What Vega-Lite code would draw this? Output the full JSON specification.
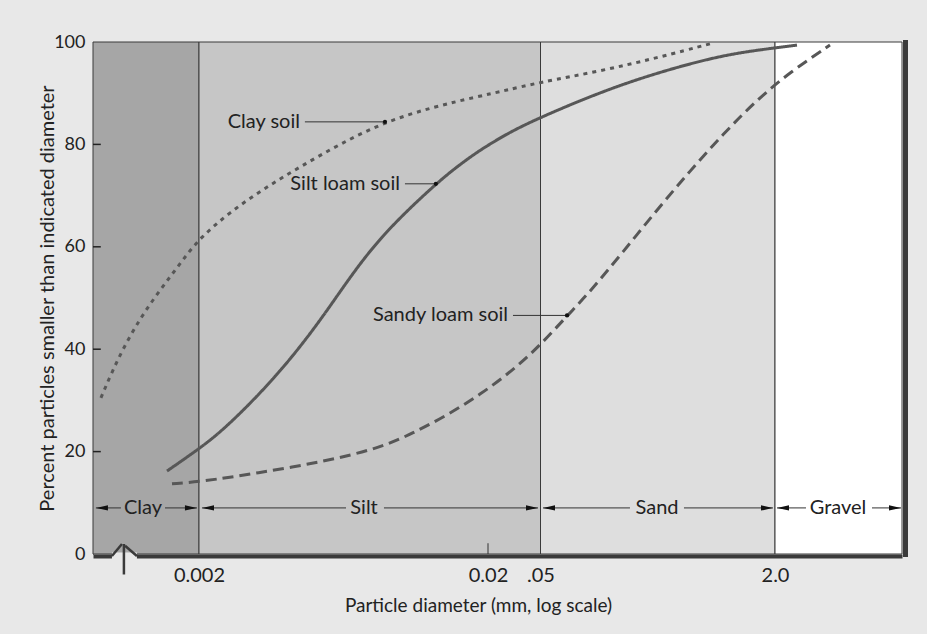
{
  "$schema": "https://vega.github.io/schema/vega-lite/v6.json",
  "width": 809,
  "height": 512,
  "autosize": "none",
  "padding": {"left": 93, "top": 42, "right": 25, "bottom": 80},
  "background": "#e8e8e8",
  "config": {
    "font": "Lato",
    "view": {"stroke": null},
    "axis": {"labelFont": "Lato", "titleFont": "Lato", "grid": false, "labelColor": "#222", "titleColor": "#222", "titleFontWeight": "normal"}
  },
  "datasets": {
    "regions": [
      {"zone": "Clay", "d1": 0.00086, "d2": 0.002},
      {"zone": "Silt", "d1": 0.002, "d2": 0.05},
      {"zone": "Sand", "d1": 0.05, "d2": 2},
      {"zone": "Gravel", "d1": 2, "d2": 14.74}
    ],
    "curves": [
      {"soil": "Clay soil", "d": 0.000916, "p": 30.5},
      {"soil": "Clay soil", "d": 0.001, "p": 35.55},
      {"soil": "Clay soil", "d": 0.001109, "p": 40.8},
      {"soil": "Clay soil", "d": 0.00125, "p": 45.9},
      {"soil": "Clay soil", "d": 0.001409, "p": 50.2},
      {"soil": "Clay soil", "d": 0.001587, "p": 54.1},
      {"soil": "Clay soil", "d": 0.001789, "p": 58.0},
      {"soil": "Clay soil", "d": 0.002016, "p": 61.7},
      {"soil": "Clay soil", "d": 0.00256, "p": 66.8},
      {"soil": "Clay soil", "d": 0.003384, "p": 71.5},
      {"soil": "Clay soil", "d": 0.004472, "p": 75.6},
      {"soil": "Clay soil", "d": 0.00615, "p": 80.1},
      {"soil": "Clay soil", "d": 0.0088, "p": 84.4},
      {"soil": "Clay soil", "d": 0.0129, "p": 87.3},
      {"soil": "Clay soil", "d": 0.0183, "p": 89.3},
      {"soil": "Clay soil", "d": 0.02786, "p": 90.6},
      {"soil": "Clay soil", "d": 0.047, "p": 92.0},
      {"soil": "Clay soil", "d": 0.1275, "p": 94.3},
      {"soil": "Clay soil", "d": 0.3124, "p": 96.9},
      {"soil": "Clay soil", "d": 0.754, "p": 99.8},
      {"soil": "Silt loam soil", "d": 0.00155, "p": 16.2},
      {"soil": "Silt loam soil", "d": 0.00202, "p": 20.7},
      {"soil": "Silt loam soil", "d": 0.00242, "p": 24.2},
      {"soil": "Silt loam soil", "d": 0.003175, "p": 30.7},
      {"soil": "Silt loam soil", "d": 0.00413, "p": 37.9},
      {"soil": "Silt loam soil", "d": 0.00537, "p": 46.3},
      {"soil": "Silt loam soil", "d": 0.00704, "p": 56.1},
      {"soil": "Silt loam soil", "d": 0.00916, "p": 63.9},
      {"soil": "Silt loam soil", "d": 0.0132, "p": 72.3},
      {"soil": "Silt loam soil", "d": 0.01575, "p": 75.8},
      {"soil": "Silt loam soil", "d": 0.01876, "p": 78.9},
      {"soil": "Silt loam soil", "d": 0.02836, "p": 82.2},
      {"soil": "Silt loam soil", "d": 0.047, "p": 85.0},
      {"soil": "Silt loam soil", "d": 0.1275, "p": 90.2},
      {"soil": "Silt loam soil", "d": 0.312, "p": 94.0},
      {"soil": "Silt loam soil", "d": 0.882, "p": 97.5},
      {"soil": "Silt loam soil", "d": 1.937, "p": 98.8},
      {"soil": "Silt loam soil", "d": 2.826, "p": 99.4},
      {"soil": "Sandy loam soil", "d": 0.001613, "p": 13.7},
      {"soil": "Sandy loam soil", "d": 0.00202, "p": 14.1},
      {"soil": "Sandy loam soil", "d": 0.003175, "p": 15.8},
      {"soil": "Sandy loam soil", "d": 0.00537, "p": 18.0},
      {"soil": "Sandy loam soil", "d": 0.00846, "p": 20.7},
      {"soil": "Sandy loam soil", "d": 0.011, "p": 23.6},
      {"soil": "Sandy loam soil", "d": 0.01443, "p": 27.1},
      {"soil": "Sandy loam soil", "d": 0.01876, "p": 31.1},
      {"soil": "Sandy loam soil", "d": 0.03094, "p": 35.9},
      {"soil": "Sandy loam soil", "d": 0.0499, "p": 40.8},
      {"soil": "Sandy loam soil", "d": 0.07586, "p": 46.5},
      {"soil": "Sandy loam soil", "d": 0.1089, "p": 51.2},
      {"soil": "Sandy loam soil", "d": 0.183, "p": 59.0},
      {"soil": "Sandy loam soil", "d": 0.3124, "p": 67.2},
      {"soil": "Sandy loam soil", "d": 0.525, "p": 74.8},
      {"soil": "Sandy loam soil", "d": 0.8824, "p": 82.0},
      {"soil": "Sandy loam soil", "d": 1.506, "p": 88.7},
      {"soil": "Sandy loam soil", "d": 2.532, "p": 94.1},
      {"soil": "Sandy loam soil", "d": 4.75, "p": 99.4}
    ],
    "leaders": [
      {"soil": "Clay soil", "tx": 0.00447, "d1": 0.00465, "d2": 0.0088, "p": 84.4},
      {"soil": "Silt loam soil", "tx": 0.00992, "d1": 0.01032, "d2": 0.0132, "p": 72.3},
      {"soil": "Sandy loam soil", "tx": 0.02836, "d1": 0.03094, "d2": 0.07586, "p": 46.6}
    ],
    "yticks": [
      {"p": 20, "d1": 0.00086, "d2": 0.000915},
      {"p": 40, "d1": 0.00086, "d2": 0.000915},
      {"p": 60, "d1": 0.00086, "d2": 0.000915},
      {"p": 80, "d1": 0.00086, "d2": 0.000915}
    ],
    "rangeLabels": [
      {"zone": "Clay", "d": 0.00128, "p": 9},
      {"zone": "Silt", "d": 0.00745, "p": 9},
      {"zone": "Sand", "d": 0.3124, "p": 9},
      {"zone": "Gravel", "d": 5.386, "p": 9}
    ],
    "arrowLines": [
      {"seg": "clayL", "d": 0.00088, "p": 9}, {"seg": "clayL", "d": 0.001074, "p": 9},
      {"seg": "clayR", "d": 0.001526, "p": 9}, {"seg": "clayR", "d": 0.001968, "p": 9},
      {"seg": "siltL", "d": 0.002048, "p": 9}, {"seg": "siltL", "d": 0.006452, "p": 9},
      {"seg": "siltR", "d": 0.008732, "p": 9}, {"seg": "siltR", "d": 0.04788, "p": 9},
      {"seg": "sandL", "d": 0.052, "p": 9}, {"seg": "sandL", "d": 0.2043, "p": 9},
      {"seg": "sandR", "d": 0.4777, "p": 9}, {"seg": "sandR", "d": 1.937, "p": 9},
      {"seg": "gravL", "d": 2.064, "p": 9}, {"seg": "gravL", "d": 3.256, "p": 9},
      {"seg": "gravR", "d": 9.196, "p": 9}, {"seg": "gravR", "d": 14.51, "p": 9}
    ],
    "arrowHeads": [
      {"dir": "left", "d": 0.0009235, "p": 9},
      {"dir": "right", "d": 0.001876, "p": 9},
      {"dir": "left", "d": 0.002149, "p": 9},
      {"dir": "right", "d": 0.04312, "p": 9},
      {"dir": "left", "d": 0.05716, "p": 9},
      {"dir": "right", "d": 1.763, "p": 9},
      {"dir": "left", "d": 2.269, "p": 9},
      {"dir": "right", "d": 13.2, "p": 9}
    ],
    "breakGap": [
      {"d1": 0.001, "d2": 0.00122, "p1": 0.3, "p2": -1.3}
    ],
    "breakLines": [
      {"seg": "a", "d": 0.001, "p": -0.4}, {"seg": "a", "d": 0.001083, "p": 1.95},
      {"seg": "b", "d": 0.0011, "p": 1.95}, {"seg": "b", "d": 0.0011, "p": -4.0},
      {"seg": "c", "d": 0.00111, "p": 1.6}, {"seg": "c", "d": 0.00122, "p": -0.4}
    ]
  },
  "layer": [
    {
      "data": {"name": "regions"},
      "mark": {"type": "rect", "stroke": "#3a3a3a", "strokeWidth": 1},
      "encoding": {
        "x": {
          "field": "d1", "type": "quantitative",
          "scale": {"type": "log", "domain": [0.00086, 0.002, 0.02, 0.05, 2, 14.74], "range": [0, 106, 395, 447.5, 682, 809], "nice": false},
          "axis": {
            "values": [0.002, 0.02, 0.05, 2],
            "labelExpr": "datum.value < 0.003 ? '0.002' : datum.value < 0.03 ? '0.02' : datum.value < 0.1 ? '.05' : '2.0'",
            "ticks": false, "domain": true, "domainWidth": 4, "domainColor": "#3a3a3a", "offset": 2,
            "labelPadding": 9, "labelFontSize": 20, "labelOverlap": false, "labelFlush": false,
            "title": "Particle diameter (mm, log scale)", "titleFontSize": 19, "titlePadding": 7,
            "titleX": 385, "titleY": 49, "titleBaseline": "middle", "titleAnchor": "middle"
          }
        },
        "x2": {"field": "d2"},
        "y": {
          "datum": 0, "type": "quantitative",
          "scale": {"domain": [0, 100], "nice": false},
          "axis": {
            "values": [0, 20, 40, 60, 80, 100],
            "ticks": false,
            "domain": true, "domainColor": "#333",
            "labelPadding": 8, "labelFontSize": 18,
            "title": "Percent particles smaller than indicated diameter", "titleFontSize": 20, "titlePadding": -4
          }
        },
        "y2": {"datum": 100},
        "fill": {
          "field": "zone", "type": "nominal",
          "scale": {"domain": ["Clay", "Silt", "Sand", "Gravel"], "range": ["#a6a6a6", "#c6c6c6", "#dedede", "#ffffff"]},
          "legend": null
        }
      }
    },
    {
      "data": {"name": "yticks"},
      "mark": {"type": "rule", "color": "#222", "strokeWidth": 1.5},
      "encoding": {
        "x": {"field": "d1", "type": "quantitative"},
        "x2": {"field": "d2"},
        "y": {"field": "p", "type": "quantitative", "axis": null}
      }
    },
    {
      "data": {"name": "curves"},
      "mark": {"type": "line", "interpolate": "basis", "strokeWidth": 3, "color": "#575757", "strokeCap": "butt"},
      "encoding": {
        "x": {"field": "d", "type": "quantitative"},
        "y": {
          "field": "p", "type": "quantitative",
          "axis": {"orient": "right", "labels": false, "ticks": false, "title": null, "domain": true, "domainWidth": 5, "domainColor": "#3a3a3a", "offset": 3, "domainCap": "square"}
        },
        "strokeDash": {
          "field": "soil", "type": "nominal",
          "scale": {"domain": ["Clay soil", "Silt loam soil", "Sandy loam soil"], "range": [[4, 5], [1, 0], [11, 6]]},
          "legend": null
        }
      }
    },
    {
      "data": {"values": [{"d": 0.02}]},
      "mark": {"type": "rule", "color": "#333", "strokeWidth": 1},
      "encoding": {
        "x": {"field": "d", "type": "quantitative"},
        "y": {"datum": 0, "type": "quantitative", "axis": null},
        "y2": {"datum": 2.1}
      }
    },
    {
      "data": {"name": "leaders"},
      "mark": {"type": "rule", "color": "#333", "strokeWidth": 1},
      "encoding": {
        "x": {"field": "d1", "type": "quantitative"},
        "x2": {"field": "d2"},
        "y": {"field": "p", "type": "quantitative", "axis": null}
      }
    },
    {
      "data": {"name": "leaders"},
      "mark": {"type": "point", "filled": true, "color": "#111", "size": 18, "opacity": 1},
      "encoding": {
        "x": {"field": "d2", "type": "quantitative"},
        "y": {"field": "p", "type": "quantitative", "axis": null}
      }
    },
    {
      "data": {"name": "leaders"},
      "mark": {"type": "text", "align": "right", "baseline": "middle", "fontSize": 20, "color": "#222", "font": "Lato"},
      "encoding": {
        "x": {"field": "tx", "type": "quantitative"},
        "y": {"field": "p", "type": "quantitative", "axis": null},
        "text": {"field": "soil"}
      }
    },
    {
      "data": {"name": "arrowLines"},
      "mark": {"type": "line", "color": "#333", "strokeWidth": 1},
      "encoding": {
        "x": {"field": "d", "type": "quantitative"},
        "y": {"field": "p", "type": "quantitative", "axis": null},
        "detail": {"field": "seg"}
      }
    },
    {
      "data": {"name": "arrowHeads"},
      "mark": {"type": "point", "filled": true, "color": "#111", "opacity": 1, "size": 144},
      "encoding": {
        "x": {"field": "d", "type": "quantitative"},
        "y": {"field": "p", "type": "quantitative", "axis": null},
        "shape": {
          "field": "dir", "type": "nominal",
          "scale": {"domain": ["left", "right"], "range": ["M-1,0L1,-0.45L1,0.45Z", "M1,0L-1,-0.45L-1,0.45Z"]},
          "legend": null
        }
      }
    },
    {
      "data": {"name": "rangeLabels"},
      "mark": {"type": "text", "align": "center", "baseline": "middle", "fontSize": 20, "color": "#222", "font": "Lato"},
      "encoding": {
        "x": {"field": "d", "type": "quantitative"},
        "y": {"field": "p", "type": "quantitative", "axis": null},
        "text": {"field": "zone"}
      }
    },
    {
      "data": {"name": "breakGap"},
      "mark": {"type": "rect", "color": "#e8e8e8", "clip": false},
      "encoding": {
        "x": {"field": "d1", "type": "quantitative"},
        "x2": {"field": "d2"},
        "y": {"field": "p1", "type": "quantitative", "axis": null},
        "y2": {"field": "p2"}
      }
    },
    {
      "data": {"name": "breakLines"},
      "mark": {"type": "line", "color": "#3a3a3a", "strokeWidth": 2.5, "clip": false},
      "encoding": {
        "x": {"field": "d", "type": "quantitative"},
        "y": {"field": "p", "type": "quantitative", "axis": null},
        "detail": {"field": "seg"}
      }
    }
  ],
  "resolve": {"axis": {"y": "independent"}}
}
